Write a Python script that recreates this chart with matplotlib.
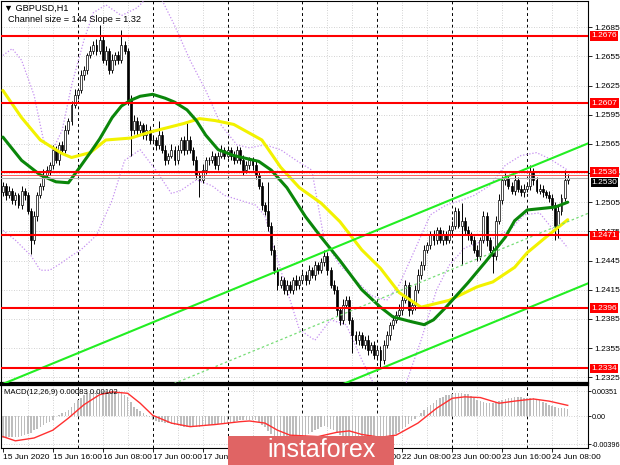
import numpy as np
import matplotlib.pyplot as plt
import matplotlib.transforms as mtransforms
from matplotlib.patches import Rectangle

plt.rcParams['font.family'] = ['Liberation Sans', 'DejaVu Sans']

# GBPUSD H1 candles, 15 Jun 2020 00:00 .. 24 Jun 2020 13:00 (closes)
closes = [
    1.2522, 1.2512, 1.2517, 1.2507, 1.2512, 1.2502, 1.2517, 1.2512, 1.2496, 1.2466,
    1.2491, 1.2512, 1.2522, 1.2533, 1.2538, 1.2543, 1.2559, 1.2548, 1.2564, 1.2559,
    1.2579, 1.2589, 1.2605, 1.2615, 1.2620, 1.2636, 1.2641, 1.2656, 1.2661, 1.2667,
    1.2661, 1.2672, 1.2651, 1.2661, 1.2641, 1.2651, 1.2656, 1.2651, 1.2667, 1.2661,
    1.2610, 1.2579, 1.2589, 1.2579, 1.2584, 1.2574, 1.2579, 1.2569, 1.2569, 1.2564,
    1.2574, 1.2559, 1.2548, 1.2553, 1.2559, 1.2548, 1.2559, 1.2569, 1.2559, 1.2569,
    1.2559, 1.2548, 1.2533, 1.2528, 1.2538, 1.2548, 1.2548, 1.2553, 1.2543, 1.2553,
    1.2559, 1.2553, 1.2559, 1.2553, 1.2548, 1.2559, 1.2548, 1.2538, 1.2543, 1.2548,
    1.2543, 1.2533, 1.2522, 1.2502, 1.2496, 1.2481, 1.2456, 1.2435, 1.2420, 1.2425,
    1.2415, 1.2420, 1.2415, 1.2425, 1.2420, 1.2425, 1.2430, 1.2425, 1.2435, 1.2430,
    1.2440, 1.2435, 1.2443, 1.2450, 1.2435, 1.2420, 1.2415, 1.2394, 1.2384, 1.2399,
    1.2404, 1.2384, 1.2368, 1.2363, 1.2368, 1.2358, 1.2363, 1.2353, 1.2358, 1.2348,
    1.2353, 1.2343, 1.2358, 1.2368, 1.2379, 1.2384, 1.2389, 1.2394, 1.2404, 1.2420,
    1.2394, 1.2399, 1.2415, 1.2430, 1.2440, 1.2456, 1.2461, 1.2471, 1.2466, 1.2476,
    1.2466, 1.2471, 1.2466, 1.2476, 1.2481, 1.2496, 1.2481, 1.2486, 1.2476, 1.2471,
    1.2466, 1.2456, 1.2450, 1.2466, 1.2491, 1.2466, 1.2456, 1.2450, 1.2486, 1.2507,
    1.2528, 1.2530, 1.2522, 1.2517, 1.2528, 1.2519, 1.2515, 1.2519, 1.2522, 1.2536,
    1.2528, 1.2517, 1.2519, 1.2515, 1.2512, 1.2509, 1.2502, 1.2481, 1.2496, 1.2509,
    1.2528, 1.2530,
]
first_open = 1.2515

# wick lengths in pips above / below the body
upper_wick = [
    4, 3, 5, 3, 4, 2, 5, 3, 4, 3,
    5, 4, 3, 6, 4, 3, 5, 4, 3, 4,
    5, 3, 4, 6, 3, 5, 4, 3, 5, 4,
    6, 15, 4, 5, 3, 6, 4, 5, 15, 4,
    3, 5, 6, 4, 5, 3, 6, 4, 5, 3,
    15, 4, 5, 3, 6, 4, 5, 3, 4, 20,
    4, 3, 5, 4, 6, 3, 4, 5, 3, 4,
    5, 3, 4, 3, 5, 4, 3, 6, 4, 3,
    4, 5, 3, 4, 3, 30, 4, 5, 3, 4,
    3, 5, 4, 3, 5, 4, 3, 4, 5, 3,
    4, 3, 5, 6, 4, 3, 5, 4, 3, 6,
    5, 4, 3, 5, 4, 3, 4, 5, 3, 4,
    3, 4, 5, 4, 3, 5, 4, 6, 4, 5,
    3, 4, 5, 6, 4, 5, 3, 4, 5, 4,
    3, 5, 4, 6, 5, 4, 3, 18, 4, 5,
    3, 4, 5, 3, 5, 4, 3, 4, 5, 6,
    4, 5, 3, 4, 5, 3, 4, 5, 3, 7,
    4, 3, 5, 4, 3, 5, 4, 3, 5, 4,
    10, 4,
]
lower_wick = [
    4, 5, 3, 4, 5, 3, 4, 5, 3, 14,
    4, 5, 3, 4, 3, 5, 4, 3, 5, 4,
    3, 4, 5, 3, 4, 3, 5, 4, 3, 4,
    5, 4, 3, 5, 4, 3, 5, 4, 3, 4,
    5, 26, 4, 5, 3, 4, 5, 4, 3, 5,
    4, 3, 5, 4, 3, 5, 4, 3, 5, 4,
    3, 5, 4, 18, 3, 4, 5, 3, 4, 5,
    3, 4, 3, 5, 4, 3, 4, 5, 3, 4,
    5, 4, 3, 5, 4, 6, 5, 4, 5, 3,
    4, 5, 3, 4, 5, 4, 3, 5, 4, 3,
    5, 4, 3, 4, 5, 3, 4, 6, 5, 4,
    3, 4, 18, 4, 5, 3, 4, 5, 3, 4,
    5, 8, 4, 3, 5, 4, 3, 4, 5, 3,
    6, 4, 5, 3, 4, 5, 3, 4, 5, 4,
    3, 5, 4, 3, 5, 4, 3, 41, 4, 5,
    4, 3, 5, 4, 3, 6, 5, 18, 4, 3,
    4, 5, 3, 4, 5, 3, 4, 5, 3, 4,
    5, 3, 4, 5, 3, 4, 5, 15, 13, 4,
    3, 4,
]

# moving averages (bar index, price)
green_idx = [0, 6, 12, 17, 21, 24, 28, 31, 35, 38, 41, 44, 48, 52, 55, 59, 62, 65, 69,
             74, 82, 86, 91, 97, 102, 108, 115, 121, 125, 131, 135, 138, 142, 149, 155,
             161, 164, 168, 174, 177, 181]
green_val = [1.2572, 1.2548, 1.2533, 1.2526, 1.2525, 1.2538, 1.2556, 1.2570, 1.2592,
             1.2604, 1.2610, 1.2614, 1.2616, 1.2612, 1.2608, 1.2600, 1.2589, 1.2574,
             1.2559, 1.2553, 1.2547, 1.2538, 1.2520, 1.2490, 1.2469, 1.2445, 1.2415,
             1.2397, 1.2387, 1.2382, 1.2379, 1.2384, 1.2397, 1.2422, 1.2445, 1.2469,
             1.2486, 1.2497, 1.2499, 1.2500, 1.2505]
yellow_idx = [0, 6, 12, 19, 22, 28, 33, 41, 47, 58, 63, 68, 74, 83, 89, 95, 102, 108,
              115, 121, 127, 134, 143, 152, 157, 164, 168, 174, 181]
yellow_val = [1.2620, 1.2592, 1.2569, 1.2555, 1.2551, 1.2556, 1.2569, 1.2571, 1.2577,
              1.2586, 1.2591, 1.2589, 1.2585, 1.2569, 1.2541, 1.2520, 1.2504, 1.2485,
              1.2456, 1.2437, 1.2412, 1.2397, 1.2404, 1.2418, 1.2423, 1.2438, 1.2453,
              1.2469, 1.2487]

# envelope bands (dotted violet)
band_up_idx = [0, 3, 6, 10, 13, 16, 19, 22, 26, 29, 33, 38, 43, 47, 51, 55, 60, 65, 70,
               75, 79, 84, 89, 94, 99, 103, 108, 113, 118, 123, 127, 132, 137, 142, 147,
               151, 156, 161, 166, 171, 175, 181]
band_up_val = [1.2656, 1.2663, 1.2651, 1.2615, 1.2569, 1.2559, 1.2579, 1.2625, 1.2672,
               1.2700, 1.2708, 1.2697, 1.2705, 1.2718, 1.2713, 1.2687, 1.2651, 1.2620,
               1.2584, 1.2564, 1.2561, 1.2564, 1.2559, 1.2548, 1.2538, 1.2466, 1.2440,
               1.2425, 1.2409, 1.2404, 1.2420, 1.2456, 1.2492, 1.2502, 1.2507, 1.2512,
               1.2522, 1.2543, 1.2553, 1.2556, 1.2550, 1.2538]
band_lo_idx = [0, 4, 9, 12, 15, 19, 22, 25, 30, 35, 39, 44, 49, 54, 57, 62, 67, 71, 76,
               81, 84, 87, 91, 95, 100, 105, 110, 115, 119, 124, 129, 134, 139, 143, 148,
               153, 158, 163, 167, 172, 177, 181]
band_lo_val = [1.2476, 1.2466, 1.2450, 1.2435, 1.2435, 1.2443, 1.2450, 1.2456, 1.2471,
               1.2507, 1.2548, 1.2559, 1.2538, 1.2514, 1.2517, 1.2528, 1.2522, 1.2512,
               1.2507, 1.2502, 1.2491, 1.2456, 1.2415, 1.2374, 1.2363, 1.2384, 1.2379,
               1.2343, 1.2317, 1.2312, 1.2317, 1.2363, 1.2415, 1.2440, 1.2458, 1.2464,
               1.2469, 1.2478, 1.2492, 1.2494, 1.2474, 1.2458]

# regression channel
chan_start = 1.2318   # upper line at bar 0
chan_slope = 1.32     # pips per bar
chan_size = 144       # pips

levels = [1.2676, 1.2607, 1.2536, 1.2471, 1.2396, 1.2334]
last_price = 1.2530
price_ticks = [1.2685, 1.2655, 1.2625, 1.2595, 1.2565, 1.2535, 1.2505, 1.2475,
               1.2445, 1.2415, 1.2385, 1.2355, 1.2325]

# MACD(12,26,9) histogram per bar
macd_hist = [
    -0.0031, -0.0031, -0.0030, -0.0030, -0.0029, -0.0029, -0.0028, -0.0027, -0.0025, -0.0024,
    -0.0020, -0.0018, -0.0015, -0.0013, -0.0010, -0.0008, -0.0005, 0.0000, 0.0002, 0.0004,
    0.0006, 0.0008, 0.0013, 0.0018, 0.0023, 0.0026, 0.0029, 0.0032, 0.0033, 0.0034,
    0.0035, 0.0035, 0.0035, 0.0035, 0.0034, 0.0034, 0.0034, 0.0033, 0.0032, 0.0030,
    0.0027, 0.0020, 0.0013, 0.0010, 0.0007, 0.0004, 0.0001, -0.0002, -0.0006, -0.0007,
    -0.0008, -0.0009, -0.0010, -0.0010, -0.0011, -0.0012, -0.0013, -0.0014, -0.0015, -0.0015,
    -0.0015, -0.0015, -0.0016, -0.0015, -0.0014, -0.0013, -0.0013, -0.0012, -0.0012, -0.0011,
    -0.0010, -0.0010, -0.0010, -0.0009, -0.0008, -0.0007, -0.0006, -0.0006, -0.0005, -0.0005,
    -0.0005, -0.0006, -0.0008, -0.0012, -0.0016, -0.0021, -0.0026, -0.0030, -0.0033, -0.0035,
    -0.0036, -0.0037, -0.0037, -0.0036, -0.0034, -0.0032, -0.0030, -0.0028, -0.0025, -0.0022,
    -0.0020, -0.0018, -0.0016, -0.0014, -0.0015, -0.0018, -0.0020, -0.0024, -0.0027, -0.0028,
    -0.0028, -0.0030, -0.0032, -0.0034, -0.0035, -0.0036, -0.0036, -0.0037, -0.0037, -0.0038,
    -0.0038, -0.0038, -0.0037, -0.0035, -0.0032, -0.0029, -0.0026, -0.0022, -0.0018, -0.0015,
    -0.0011, -0.0007, -0.0004, 0.0000, 0.0004, 0.0008, 0.0012, 0.0015, 0.0019, 0.0022,
    0.0025, 0.0027, 0.0029, 0.0030, 0.0031, 0.0032, 0.0032, 0.0032, 0.0031, 0.0031,
    0.0028, 0.0025, 0.0023, 0.0021, 0.0020, 0.0019, 0.0018, 0.0018, 0.0020, 0.0021,
    0.0023, 0.0024, 0.0025, 0.0026, 0.0027, 0.0027, 0.0027, 0.0026, 0.0026, 0.0025,
    0.0025, 0.0024, 0.0022, 0.0020, 0.0018, 0.0016, 0.0014, 0.0012, 0.0011, 0.0011,
    0.0011, 0.0010,
]
signal_idx = [0, 4, 10, 16, 21, 26, 31, 35, 40, 44, 48, 54, 60, 68, 76, 79, 84, 88, 92,
              101, 107, 111, 115, 121, 126, 133, 139, 144, 148, 153, 159, 164, 170, 175, 181]
signal_val = [-0.0029, -0.0035, -0.0031, -0.0020, -0.0003, 0.0016, 0.0030, 0.0034, 0.0032,
              0.0018, 0.0001, -0.0010, -0.0015, -0.0012, -0.0008, -0.0007, -0.0010, -0.0020,
              -0.0027, -0.0029, -0.0023, -0.0021, -0.0026, -0.0030, -0.0027, -0.0010, 0.0011,
              0.0025, 0.0027, 0.0026, 0.0018, 0.0021, 0.0024, 0.0021, 0.0015]
macd_ticks = [0.00351, 0.0, -0.00396]
macd_tick_labels = ['0.00351', '0.00', '-0.00396']

time_idx = [0, 16, 32, 48, 64, 80, 96, 112, 128, 144, 160, 176]
time_labels = ['15 Jun 2020', '15 Jun 16:00', '16 Jun 08:00', '17 Jun 00:00',
               '17 Jun 16:00', '18 Jun 08:00', '19 Jun 00:00', '19 Jun 16:00',
               '22 Jun 08:00', '23 Jun 00:00', '23 Jun 16:00', '24 Jun 08:00']

# ---------------------------------------------------------------
n = len(closes)
idx = np.arange(n)
c = np.array(closes)
o = np.r_[first_open, c[:-1]]
pip = 0.0001
hi = np.maximum(o, c) + np.array(upper_wick[:n]) * pip
lo = np.minimum(o, c) - np.array(lower_wick[:n]) * pip

W, H = 620, 465
FS = 6.0
fig = plt.figure(figsize=(W / 100, H / 100), dpi=100)
fig.patch.set_facecolor('white')


def px_axes(x0, y0, x1, y1):
    return fig.add_axes([x0 / W, 1 - y1 / H, (x1 - x0) / W, (y1 - y0) / H])


ax = px_axes(1, 1, 588, 383)
am = px_axes(1, 385, 588, 448)
xlim = (-0.6, 187.5)
for a in (ax, am):
    a.set_xlim(*xlim)
    for s in a.spines.values():
        s.set_color('black')
        s.set_linewidth(0.8)
ax.spines['bottom'].set_linewidth(1.6)
am.spines['top'].set_linewidth(1.6)
ax.set_ylim(1.2319, 1.2712)
am.set_ylim(-0.00451, 0.00437)

# grid and period separators
grid_kw = dict(color='#c4c4c4', lw=0.6, ls=(0, (1, 2)), zorder=1)
for i in range(8, 188, 8):
    for a in (ax, am):
        if i % 24 == 0:
            a.axvline(i, color='black', lw=0.7, ls=(0, (3, 3)), zorder=1)
        else:
            a.axvline(i, **grid_kw)
for p in price_ticks:
    ax.axhline(p, **grid_kw)
for m in macd_ticks:
    am.axhline(m, **grid_kw)

# bands
ax.plot(band_up_idx, band_up_val, color='#c58ff0', lw=0.9, ls=(0, (1, 1.5)), zorder=3)
ax.plot(band_lo_idx, band_lo_val, color='#c58ff0', lw=0.9, ls=(0, (1, 1.5)), zorder=3)

# candles
bull = c >= o
body_lo = np.minimum(o, c)
body_h = np.maximum(np.abs(c - o), 0.00004)
ax.vlines(idx, lo, hi, color='black', lw=0.7, zorder=4)
ax.bar(idx[bull], body_h[bull], bottom=body_lo[bull], width=0.62, color='white',
       edgecolor='black', lw=0.5, zorder=5)
ax.bar(idx[~bull], body_h[~bull], bottom=body_lo[~bull], width=0.62, color='black',
       edgecolor='black', lw=0.5, zorder=5)

# moving averages
ax.plot(yellow_idx, yellow_val, color='#f2f200', lw=2.2, zorder=6, solid_capstyle='round')
ax.plot(green_idx, green_val, color='#0a860a', lw=2.2, zorder=6, solid_capstyle='round')

# regression channel
cx = np.array([0, xlim[1]])
upper = chan_start + chan_slope * pip * cx
ax.plot(cx, upper, color='#22ee22', lw=1.5, zorder=6)
ax.plot(cx, upper - chan_size * pip, color='#22ee22', lw=1.5, zorder=6)
ax.plot(cx, upper - chan_size * pip / 2, color='#77dd77', lw=0.9, ls=(0, (2, 2)), zorder=6)

# support / resistance levels
for lv in levels:
    ax.axhline(lv, color='#ff0000', lw=1.5, zorder=7)
ax.axhline(1.2533, color='#ff4040', lw=0.6, zorder=7)
ax.axhline(last_price, color='#b0b0b0', lw=0.8, zorder=7)

# right price axis
ax.yaxis.tick_right()
ax.set_yticks(price_ticks)
ax.set_yticklabels([f'{p:.4f}' for p in price_ticks])
ax.tick_params(axis='y', labelsize=FS, length=3, width=0.6, pad=1.5, colors='black')
ax.tick_params(axis='x', bottom=False, labelbottom=False)
trans = mtransforms.blended_transform_factory(ax.transAxes, ax.transData)
for lv in levels:
    ax.text(1.006, lv, f'{lv:.4f}', transform=trans, ha='left', va='center',
            fontsize=FS, color='white', clip_on=False, zorder=9,
            bbox=dict(boxstyle='square,pad=0.15', fc='#ff0000', ec='none'))
ax.text(1.006, 1.2525, f'{last_price:.4f}', transform=trans, ha='left',
        va='center', fontsize=FS, color='white', clip_on=False, zorder=9,
        bbox=dict(boxstyle='square,pad=0.12', fc='black', ec='none'))

# MACD
am.bar(idx, macd_hist[:n], width=0.5, color='#bdbdbd', zorder=3)
am.plot(signal_idx, signal_val, color='#ff3030', lw=1.0, zorder=4)
am.yaxis.tick_right()
am.set_yticks(macd_ticks)
am.set_yticklabels(macd_tick_labels)
am.tick_params(axis='y', labelsize=5.2, length=2, width=0.6, pad=0.8)
am.set_xticks(time_idx)
am.set_xticklabels(time_labels)
am.tick_params(axis='x', labelsize=FS, length=3, width=0.6, pad=1.5)
for lab in am.get_xticklabels():
    lab.set_ha('left')

# header texts
fig.text(4 / W, 1 - 8 / H, '\u25bc GBPUSD,H1', fontsize=6.6, va='center', ha='left')
fig.text(8 / W, 1 - 19 / H, 'Channel size = 144 Slope = 1.32', fontsize=6.6,
         va='center', ha='left')
fig.text(4 / W, 1 - 392 / H, 'MACD(12,26,9) 0.00083 0.00102', fontsize=5.6,
         va='center', ha='left')

# watermark
fig.patches.append(Rectangle((228 / W, 0), 166 / W, 29 / H, transform=fig.transFigure,
                             fc='#e06464', ec='none', zorder=10))
fig.text(322 / W, 1 - 450 / H, 'instaforex', color='white', fontsize=18,
         ha='center', va='center', zorder=11)

fig.savefig('out.png', dpi=100)
